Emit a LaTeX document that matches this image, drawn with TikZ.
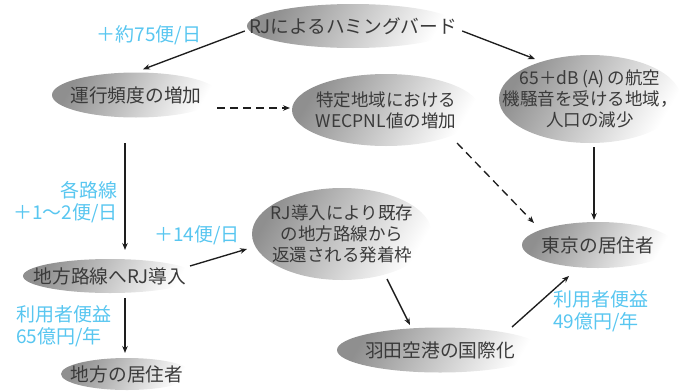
\documentclass[tikz,border=0pt]{standalone}
\usepackage{fontspec}
\newfontfamily\cjk{Noto Sans CJK JP}
\usetikzlibrary{shapes.geometric,arrows.meta,calc}
\definecolor{lbl}{RGB}{88,198,240}
\definecolor{txt}{RGB}{58,58,58}
\definecolor{ln}{RGB}{30,30,30}
\tikzset{
  ell/.style={ellipse, inner sep=0pt, top color=black!44, bottom color=white, shading angle=60},
  nt/.style={text=txt, font=\cjk\fontsize{18.7}{21}\selectfont, align=center, inner sep=0pt},
  mnt/.style={nt, font=\cjk\fontsize{17.5}{21}\selectfont},
  lab/.style={text=lbl, font=\cjk\fontsize{19}{22}\selectfont, inner sep=0pt},
  conn/.style={draw=ln, line width=1.35pt, -{Stealth[length=7pt,width=5.5pt]}},
  dconn/.style={conn, dash pattern=on 8pt off 5pt}
}
\begin{document}
\begin{tikzpicture}[x=1pt,y=-1pt]
\useasboundingbox (0,0) rectangle (684,391);
% nodes
\node[ell, minimum width=212pt, minimum height=44pt, label={[nt]center:RJによるハミングバード}] (n1) at (353,26) {};
\node[ell, minimum width=168pt, minimum height=45pt, label={[nt]center:運行頻度の増加}] (n2) at (136,95) {};
\node[ell, minimum width=188pt, minimum height=72pt, label={[mnt]center:特定地域における\\WECPNL値の増加}] (n3) at (386,110) {};
\node[ell, minimum width=182pt, minimum height=88pt, label={[mnt]center:65＋dB\,(A)\,の航空\\機騒音を受ける地域，\\人口の減少}] (n4) at (590,99) {};
\node[ell, minimum width=180pt, minimum height=92pt, label={[mnt]center:RJ導入により既存\\の地方路線から\\返還される発着枠}] (n5) at (342,234) {};
\node[ell, minimum width=174pt, minimum height=34pt, label={[nt]center:地方路線へRJ導入}] (n6) at (110,276) {};
\node[ell, minimum width=132pt, minimum height=32pt, label={[nt]center:地方の居住者}] (n7) at (127,374) {};
\node[ell, minimum width=152pt, minimum height=46pt, label={[nt]center:東京の居住者}] (n8) at (598,245) {};
\node[ell, minimum width=206pt, minimum height=45pt, label={[nt]center:羽田空港の国際化}] (n9) at (440,350) {};
% labels
\node[lab] (l1) at (149,35) {＋約75便/日};
\node[lab, anchor=east, align=right] (l2) at (118,202) {各路線\\＋1〜2便/日};
\node[lab] (l3) at (197,235) {＋14便/日};
\node[lab, anchor=west, align=left] (l4) at (16,326) {利用者便益\\65億円/年};
\node[lab, anchor=west, align=left] (l5) at (553,311) {利用者便益\\49億円/年};
% connectors
\draw[conn] ($(n1.west)+(-2,5)$) -- ($(n2.north)+(7,-3)$);
\draw[conn] ($(n1.east)+(3,5)$) -- ($(n4)+(-55,-40)$);
\draw[dconn] ($(n2)+(81,13)$) -- ($(n3)+(-96,-2)$);
\draw[conn] ($(n2)+(-11,48)$) -- ($(n6)+(15,-26)$);
\draw[conn] ($(n6)+(80,-10)$) -- ($(n5)+(-95,15)$);
\draw[conn] ($(n6)+(15,22)$) -- ($(n7)+(-2,-21)$);
\draw[dconn] ($(n3)+(71,33)$) -- ($(n8)+(-64,-22)$);
\draw[conn] ($(n4)+(4,48)$) -- ($(n8)+(-4,-25)$);
\draw[conn] ($(n5)+(45,45)$) -- ($(n9)+(-30,-25)$);
\draw[conn] ($(n9)+(72,-23)$) -- ($(n8)+(-29,31)$);
\end{tikzpicture}
\end{document}
